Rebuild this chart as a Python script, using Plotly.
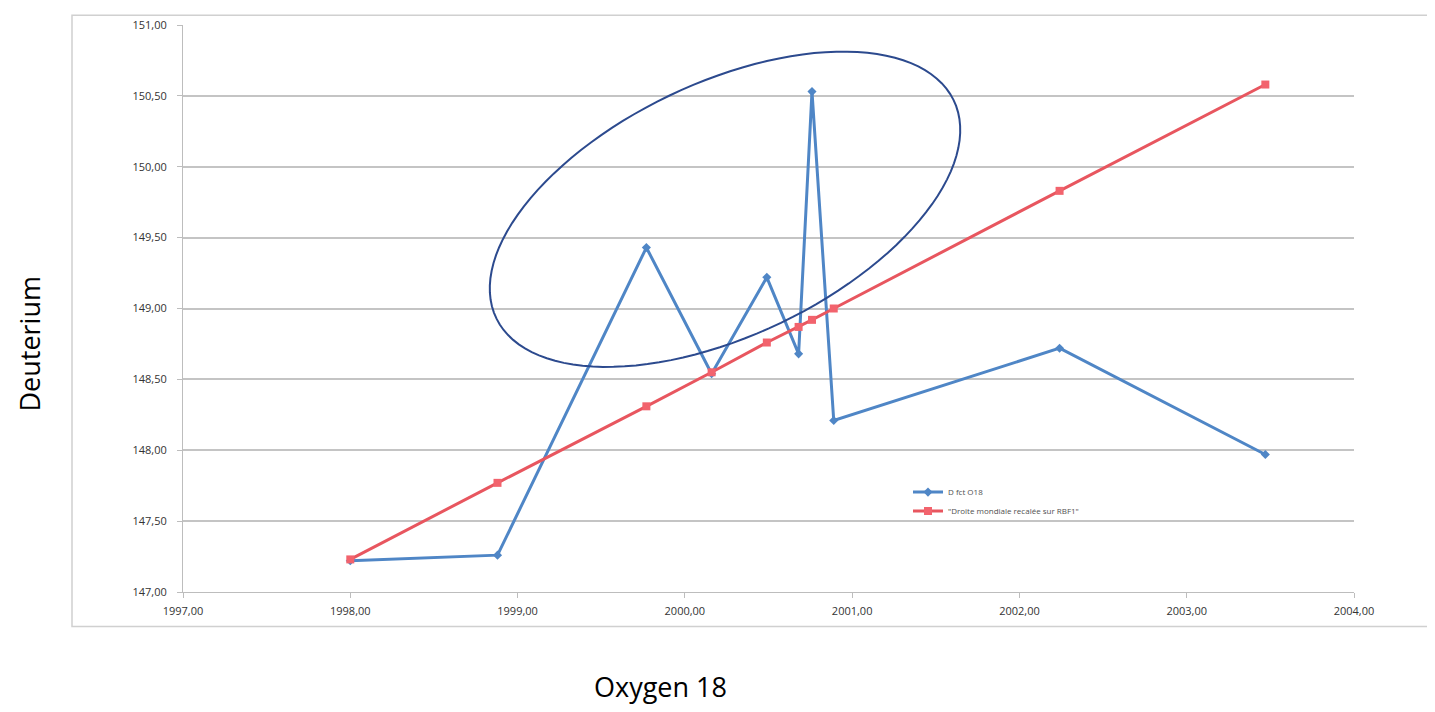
import numpy as np
import plotly.graph_objects as go

# Data
oxygen18 = [1998.00, 1998.88, 1999.77, 2000.16, 2000.49, 2000.68, 2000.76, 2000.89, 2002.24, 2003.47]
deut_obs = [147.22, 147.26, 149.43, 148.54, 149.22, 148.68, 150.53, 148.21, 148.72, 147.97]
deut_line = [147.23, 147.77, 148.31, 148.55, 148.76, 148.87, 148.92, 149.00, 149.83, 150.58]
series_names = ["D fct O18", "\"Droite mondiale recalée sur RBF1\""]
x_ticks = [1997, 1998, 1999, 2000, 2001, 2002, 2003, 2004]
y_ticks = [147.0, 147.5, 148.0, 148.5, 149.0, 149.5, 150.0, 150.5, 151.0]

OFF = 8  # page body margin
W, H = 1435 - OFF, 712 - OFF
PW, PH = 1171, 575
ML, MT = 183 - OFF, 17 - OFF
MR, MB = W - ML - PW, H - MT - PH
XR, YR = (1997, 2004), (147, 151)
sx = PW / (XR[1] - XR[0])
sy = PH / (YR[1] - YR[0])


def px_x(p):
    return (p - OFF - ML) / PW


def px_y(p):
    return (MT + PH - (p - OFF)) / PH


fig = go.Figure()
fig.add_trace(go.Scatter(
    x=oxygen18, y=deut_obs, name=series_names[0], mode="lines+markers",
    line=dict(color="#4F86C6", width=3),
    marker=dict(symbol="diamond", size=7, color="#4F86C6"),
))
fig.add_trace(go.Scatter(
    x=oxygen18, y=deut_line, name=series_names[1], mode="lines+markers",
    line=dict(color="#E8565F", width=3),
    marker=dict(symbol="square", size=8, color="#F2636D"),
))

# Highlight ellipse (rotated), annotation shape
xc, yc = 2000.24, 149.70
a_px, b_px, phi = 254, 128, np.deg2rad(25.9)
t = np.linspace(0, 2 * np.pi, 121)
dx = a_px * np.cos(t) * np.cos(phi) - b_px * np.sin(t) * np.sin(phi)
dy = a_px * np.cos(t) * np.sin(phi) + b_px * np.sin(t) * np.cos(phi)
ex = xc + dx / sx
ey = yc + dy / sy
path = "M " + " L ".join(f"{x:.5f},{y:.5f}" for x, y in zip(ex, ey)) + " Z"
fig.add_shape(type="path", path=path, xref="x", yref="y",
              line=dict(color="#2C4A8E", width=2), layer="above")

# Outer chart border
fig.add_shape(type="rect", xref="paper", yref="paper",
              x0=px_x(72), x1=px_x(1433), y0=px_y(627), y1=px_y(7),
              line=dict(color="#D0D0D0", width=1.5), layer="below")

fig.add_annotation(text="Oxygen 18", xref="paper", yref="paper",
                   x=px_x(660), y=px_y(688),
                   showarrow=False, font=dict(size=27, color="#000000",
                                              family="Open Sans"),
                   xanchor="center", yanchor="middle")
fig.add_annotation(text="Deuterium", xref="paper", yref="paper",
                   x=px_x(30), y=px_y(340), textangle=-90,
                   showarrow=False, font=dict(size=27, color="#000000",
                                              family="Open Sans"),
                   xanchor="center", yanchor="middle")

fig.update_layout(
    width=W, height=H, separators=", ",
    margin=dict(l=ML, r=MR, t=MT, b=MB),
    plot_bgcolor="white", paper_bgcolor="white",
    font=dict(family="Open Sans", size=11, color="#333333"),
    showlegend=True,
    legend=dict(x=px_x(908), y=px_y(476), xanchor="left", yanchor="top",
                bgcolor="rgba(0,0,0,0)", font=dict(size=8, color="#505050"),
                tracegroupgap=14, itemwidth=30),
)
fig.update_xaxes(range=list(XR), tickvals=x_ticks, tickformat=".2f",
                 showgrid=False, showline=True, linecolor="#BDBDBD", linewidth=1,
                 ticks="outside", ticklen=5, tickcolor="#BDBDBD",
                 ticklabelstandoff=4, tickfont=dict(size=11, color="#333333"),
                 zeroline=False, fixedrange=True)
fig.update_yaxes(range=list(YR), tickvals=y_ticks, tickformat=".2f",
                 showgrid=True, gridcolor="#C4C4C4", gridwidth=1.5,
                 showline=True, linecolor="#BDBDBD", linewidth=1,
                 ticks="outside", ticklen=5, tickcolor="#BDBDBD",
                 ticklabelstandoff=8, tickfont=dict(size=11, color="#333333"),
                 zeroline=False, fixedrange=True)

fig.write_html("out.html")
